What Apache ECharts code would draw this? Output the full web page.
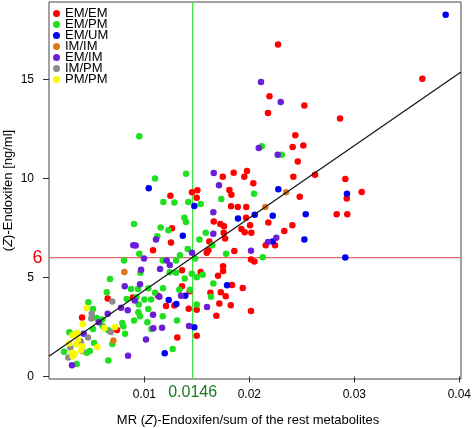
<!DOCTYPE html>
<html>
<head>
<meta charset="utf-8">
<script src="https://cdn.jsdelivr.net/npm/echarts@6/dist/echarts.min.js"></script>
<style>
html,body{margin:0;padding:0;background:#fff;}
#chart{width:472px;height:428px;}
</style>
</head>
<body>
<div id="chart"></div>
<script>
// ---- data ----
var groupNames = ['EM/EM','EM/PM','EM/UM','IM/IM','EM/IM','IM/PM','PM/PM'];
var emEm = [[0.02192,14.15],[0.02178,13.31],[0.01747,10.09],[0.01851,10.29],[0.01978,10.38],[0.01952,10.09],[0.01810,9.42],[0.01829,9.17],[0.02038,9.75],[0.01248,9.13],[0.01454,9.30],[0.01505,9.40],[0.01499,9.02],[0.02273,16.76],[0.02524,13.68],[0.03648,15.03],[0.02864,13.02],[0.02438,12.18],[0.02413,11.59],[0.02514,11.66],[0.02461,10.85],[0.02419,10.08],[0.02626,10.19],[0.02914,9.97],[0.02480,9.07],[0.02928,8.99],[0.03070,9.32],[0.02181,7.78],[0.02832,8.19],[0.02933,8.19],[0.02410,7.63],[0.02333,7.35],[0.02156,6.62],[0.02245,6.62],[0.01826,8.59],[0.01890,8.56],[0.01971,8.56],[0.01969,8.01],[0.02007,7.63],[0.01661,7.83],[0.01724,7.70],[0.01759,7.58],[0.01756,7.25],[0.01924,7.45],[0.01956,7.28],[0.02019,7.25],[0.01769,6.96],[0.01264,7.48],[0.01254,6.77],[0.01619,6.82],[0.01083,6.37],[0.01594,6.24],[0.01610,6.37],[0.01857,6.34],[0.02016,5.90],[0.02048,5.81],[0.01359,5.36],[0.01537,5.28],[0.01750,5.56],[0.01750,5.33],[0.01702,5.09],[0.01359,4.55],[0.01432,4.30],[0.01629,4.22],[0.01835,4.62],[0.01937,4.47],[0.01728,4.25],[0.01775,4.05],[0.00651,3.93],[0.00890,3.98],[0.01130,4.08],[0.01207,3.56],[0.01286,3.58],[0.01423,3.42],[0.01499,3.37],[0.01714,3.68],[0.01823,3.59],[0.01686,3.07],[0.02016,3.31],[0.01499,2.06],[0.01314,1.96],[0.00740,2.35],[0.00407,2.97]];
var emPm = [[0.00952,12.13],[0.02118,11.62],[0.02309,11.19],[0.01102,9.99],[0.01397,10.24],[0.02045,9.22],[0.01733,8.96],[0.01181,8.81],[0.01286,8.79],[0.01419,8.81],[0.01537,8.71],[0.02128,6.02],[0.01585,7.25],[0.01381,8.01],[0.01397,7.80],[0.00902,7.70],[0.01156,7.52],[0.01229,7.38],[0.01124,7.08],[0.01524,6.91],[0.00952,6.20],[0.01175,5.86],[0.01302,5.85],[0.01340,6.12],[0.01413,6.44],[0.01483,5.95],[0.01648,6.62],[0.01778,6.19],[0.00807,5.86],[0.00962,5.23],[0.01242,5.26],[0.01302,5.23],[0.01451,5.19],[0.01499,5.01],[0.01556,5.13],[0.01385,4.95],[0.01657,4.69],[0.00673,4.92],[0.00873,4.42],[0.00940,4.42],[0.01038,4.45],[0.01178,4.45],[0.01333,4.38],[0.01435,4.38],[0.01635,4.02],[0.00642,4.25],[0.00832,3.91],[0.01000,3.88],[0.01102,4.22],[0.01064,3.89],[0.00924,4.00],[0.00947,3.63],[0.00943,3.24],[0.00959,3.04],[0.01038,3.41],[0.01499,3.63],[0.01175,3.04],[0.01311,2.82],[0.01067,2.40],[0.01029,2.73],[0.00902,2.82],[0.01270,1.39],[0.00657,0.80],[0.00816,2.15],[0.00800,2.53],[0.00790,2.70],[0.00695,1.64],[0.00547,2.95],[0.00467,3.74],[0.00511,3.41],[0.00600,2.87],[0.00604,2.53],[0.00511,2.40],[0.00286,2.23],[0.00521,1.69],[0.00480,1.29],[0.00451,1.19],[0.00235,1.25],[0.00356,0.63],[0.00657,2.33]];
var emUm = [[0.03870,18.26],[0.01042,9.50],[0.02276,9.45],[0.02930,9.23],[0.02223,8.11],[0.02537,8.19],[0.02524,6.92],[0.02223,6.81],[0.02914,6.00],[0.01476,8.61],[0.02051,8.16],[0.01892,7.98],[0.01366,7.11],[0.01788,4.60],[0.01232,3.86],[0.01305,3.66],[0.01390,4.08],[0.01476,2.48],[0.01194,1.17]];
var imIm = [[0.00810,5.28],[0.00705,1.82],[0.02152,8.56],[0.02350,9.30]];
var emIm = [[0.02111,14.87],[0.02090,11.54],[0.02299,13.86],[0.02270,11.20],[0.01661,10.28],[0.01711,9.65],[0.02178,6.79],[0.02257,7.00],[0.01657,8.29],[0.01657,7.20],[0.01111,6.92],[0.00895,6.62],[0.00918,6.61],[0.00997,5.96],[0.01213,5.86],[0.01454,6.24],[0.02016,6.35],[0.00969,5.39],[0.01150,5.43],[0.01242,5.63],[0.00813,4.55],[0.00959,4.65],[0.01143,4.03],[0.00909,3.83],[0.00778,3.47],[0.00842,3.34],[0.01350,4.07],[0.01597,3.51],[0.01083,3.11],[0.01426,2.55],[0.01169,2.46],[0.01086,2.43],[0.01016,1.87],[0.00845,1.04],[0.00651,3.17],[0.00566,2.73],[0.00423,2.16],[0.00390,1.76],[0.00311,0.56]];
var imPm = [[0.00695,3.78],[0.00680,2.25],[0.00499,3.16],[0.00495,2.93],[0.00464,1.97],[0.00397,1.69],[0.00407,1.29],[0.00295,1.45],[0.00276,0.96]];
var pmPm = [[0.00448,3.46],[0.00619,2.45],[0.00413,2.63],[0.00347,2.15],[0.00314,2.08],[0.00350,1.62],[0.00407,1.52],[0.00552,1.49],[0.00311,1.20],[0.00337,1.15],[0.00318,1.02],[0.00397,1.32],[0.00721,2.50],[0.00362,2.21],[0.00369,1.86],[0.00283,1.66]];
var xTicks = [0.01, 0.02, 0.03, 0.04];
var yTicks = [0, 5, 10, 15];
var xRange = [0.00092, 0.04016];
var yRange = [-0.13, 18.91];
var cutY = 6;          // horizontal reference
var cutX = 0.0146;     // vertical reference
var fitIntercept = 0.68, fitSlope = 366;   // regression line
var xTitle = 'MR ({i|Z})-Endoxifen/sum of the rest metabolites';
var yTitle = '({i|Z})-Endoxifen [ng/ml]';

// ---- chart ----
var colors = ['#ff0000','#1ee01e','#0000f0','#e0781e','#6a1ed8','#8c8c8c','#f8f800'];
var groups = [emEm, emPm, emUm, imIm, emIm, imPm, pmPm];
var font = "'Liberation Sans', Arial, Helvetica, sans-serif";
var chart = echarts.init(document.getElementById('chart'), null, {renderer:'canvas'});

var hidden = {color:'rgba(0,0,0,0)'};
var series = [];
series.push({
  type:'line', name:'refH', z:1, silent:true, animation:false,
  symbol:'circle', symbolSize:1, showSymbol:true, itemStyle:hidden,
  lineStyle:{color:'#e46a6a', width:1.3},
  data:[
    {value:[xRange[0], cutY], label:{show:true, position:'left', distance:6, formatter:String(cutY), color:'#ee0000', fontSize:18, fontFamily:font}},
    {value:[xRange[1], cutY]}
  ]
});
series.push({
  type:'line', name:'refV', z:1, silent:true, animation:false,
  symbol:'circle', symbolSize:1, showSymbol:true, itemStyle:hidden,
  lineStyle:{color:'#44e044', width:1.3},
  data:[
    {value:[cutX, yRange[0]], label:{show:true, position:'bottom', distance:5, formatter:String(cutX), color:'#1a7a1a', fontSize:16, fontFamily:font}},
    {value:[cutX, yRange[1]]}
  ]
});
groups.forEach(function(g, i){
  series.push({
    type:'scatter', name:groupNames[i], data:g, symbol:'circle', symbolSize:6.5,
    itemStyle:{color:colors[i], opacity:1}, z:2, animation:false
  });
});
series.push({
  type:'line', name:'fit', z:3, symbol:'none', animation:false, silent:true,
  lineStyle:{color:'#111', width:1.2},
  data:[[xRange[0], fitIntercept + fitSlope*xRange[0]],[xRange[1], fitIntercept + fitSlope*xRange[1]]]
});

chart.setOption({
  animation:false,
  color:colors,
  textStyle:{fontFamily:font},
  grid:{left:49, right:11, top:2, bottom:49, outerBoundsMode:'none', containLabel:false,
        show:true, borderColor:'#444', borderWidth:1, backgroundColor:'#fff'},
  legend:{
    data:groupNames, orient:'vertical', left:53, top:7, padding:0, itemWidth:7, itemHeight:7, itemGap:-2,
    icon:'circle', selectedMode:false,
    textStyle:{fontSize:13, color:'#000', fontFamily:font}
  },
  xAxis:{
    type:'value', min:xRange[0], max:xRange[1],
    name:xTitle, nameLocation:'middle', nameGap:35, nameMoveOverlap:false,
    nameTextStyle:{fontSize:13, color:'#000', fontFamily:font, padding:[0,14,0,0],
      rich:{i:{fontStyle:'italic', fontSize:13, fontFamily:font}}},
    axisLine:{show:false},
    axisTick:{show:true, length:6, customValues:xTicks, lineStyle:{color:'#333'}},
    axisLabel:{customValues:xTicks, margin:10, fontSize:12, color:'#000', fontFamily:font,
      formatter:function(v){return String(v);}},
    splitLine:{show:false}
  },
  yAxis:{
    type:'value', min:yRange[0], max:yRange[1],
    name:yTitle, nameLocation:'middle', nameGap:34, nameRotate:90, nameMoveOverlap:false,
    nameTextStyle:{fontSize:13, color:'#000', fontFamily:font,
      rich:{i:{fontStyle:'italic', fontSize:13, fontFamily:font}}},
    axisLine:{show:false},
    axisTick:{show:true, length:6, customValues:yTicks, lineStyle:{color:'#333'}},
    axisLabel:{customValues:yTicks, margin:15, fontSize:12, color:'#000', fontFamily:font},
    splitLine:{show:false}
  },
  series:series
});
</script>
</body>
</html>
